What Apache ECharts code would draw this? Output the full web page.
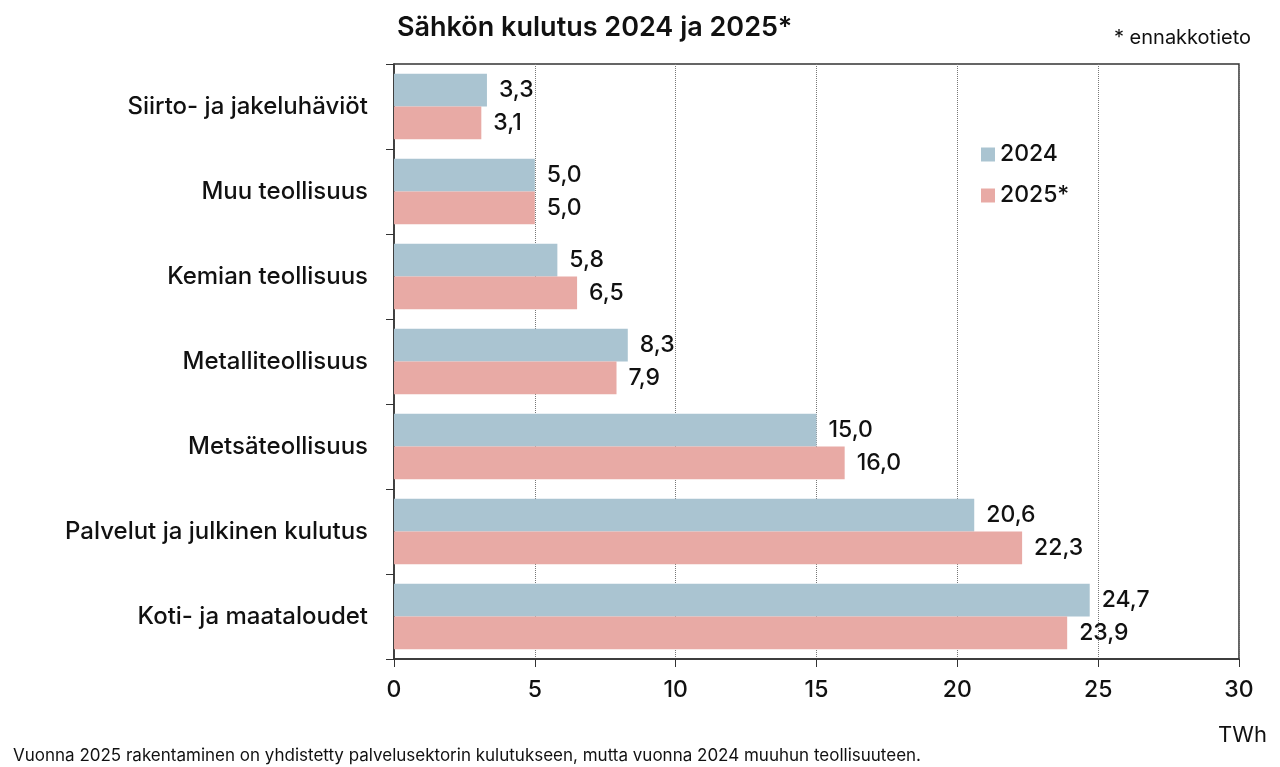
<!DOCTYPE html>
<html>
<head>
<meta charset="utf-8">
<script src="https://cdn.jsdelivr.net/npm/echarts@6/dist/echarts.min.js"></script>
<style>
	html, body { margin: 0; padding: 0; background: #fff; }
	#box { width: 1280px; height: 767px; }
</style>
</head>
<body>
<div id="box"></div>
<script>
var categories = ["Siirto- ja jakeluhäviöt", "Muu teollisuus", "Kemian teollisuus", "Metalliteollisuus", "Metsäteollisuus", "Palvelut ja julkinen kulutus", "Koti- ja maataloudet"];
var values2024 = [3.3, 5.0, 5.8, 8.3, 15.0, 20.6, 24.7];
var values2025 = [3.1, 5.0, 6.5, 7.9, 16.0, 22.3, 23.9];
var xTicks = [0, 5, 10, 15, 20, 25, 30];

var font = "Inter, 'Noto Sans', sans-serif";

function fmt(p) {
	return p.value.toFixed(1).replace('.', ',');
}

var myChart = echarts.init(document.getElementById("box"));
var option = {
	animation: false,
	textStyle: { fontFamily: font, color: '#111' },
	title: [{
		text: "Sähkön kulutus 2024 ja 2025*",
		left: 392,
		top: 9,
		textStyle: { fontFamily: font, fontSize: 27, fontWeight: 600, color: '#111' }
	}, {
		text: "* ennakkotieto",
		right: 24,
		top: 23,
		textStyle: { fontFamily: font, fontSize: 20, fontWeight: 400, color: '#111' }
	}, {
		text: "TWh",
		right: 8,
		top: 719,
		textStyle: { fontFamily: font, fontSize: 22, fontWeight: 400, color: '#111' }
	}, {
		text: "Vuonna 2025 rakentaminen on yhdistetty palvelusektorin kulutukseen, mutta vuonna 2024 muuhun teollisuuteen.",
		left: 8,
		top: 742,
		textStyle: { fontFamily: font, fontSize: 17, fontWeight: 400, color: '#111' }
	}],
	legend: {
		orient: 'vertical',
		left: 976,
		top: 138,
		icon: 'rect',
		itemWidth: 14,
		itemHeight: 14,
		itemGap: 18,
		textStyle: { fontFamily: font, fontSize: 23, fontWeight: 500, color: '#111' },
		data: ["2024", "2025*"]
	},
	grid: {
		left: 394,
		right: 41,
		top: 64,
		bottom: 108,
		show: true,
		borderColor: '#333',
		borderWidth: 1.5
	},
	xAxis: {
		type: 'value',
		min: xTicks[0],
		max: xTicks[xTicks.length - 1],
		interval: 5,
		axisLine: { show: true, lineStyle: { color: '#333', width: 1.5 } },
		axisTick: { show: true, length: 8, lineStyle: { color: '#333' } },
		axisLabel: { fontFamily: font, fontSize: 23, fontWeight: 500, color: '#111', margin: 20 },
		splitLine: { show: true, lineStyle: { color: '#777', type: 'dotted', width: 1 } }
	},
	yAxis: {
		type: 'category',
		inverse: true,
		data: categories,
		axisLine: { show: true, lineStyle: { color: '#333', width: 1.5 } },
		axisTick: { show: true, length: 8, lineStyle: { color: '#333' } },
		axisLabel: { fontFamily: font, fontSize: 24, fontWeight: 500, color: '#111', margin: 26 }
	},
	series: [{
		name: "2024",
		type: 'bar',
		data: values2024,
		barGap: '0%',
		barCategoryGap: '23%',
		itemStyle: { color: '#aac4d1' },
		label: { show: true, position: 'right', distance: 12, formatter: fmt, fontFamily: font, fontSize: 23, fontWeight: 500, color: '#111' }
	}, {
		name: "2025*",
		type: 'bar',
		data: values2025,
		barGap: '0%',
		barCategoryGap: '23%',
		itemStyle: { color: '#e8aaa5' },
		label: { show: true, position: 'right', distance: 12, formatter: fmt, fontFamily: font, fontSize: 23, fontWeight: 500, color: '#111' }
	}]
};

myChart.clear();
myChart.setOption(option);
</script>
</body>
</html>
